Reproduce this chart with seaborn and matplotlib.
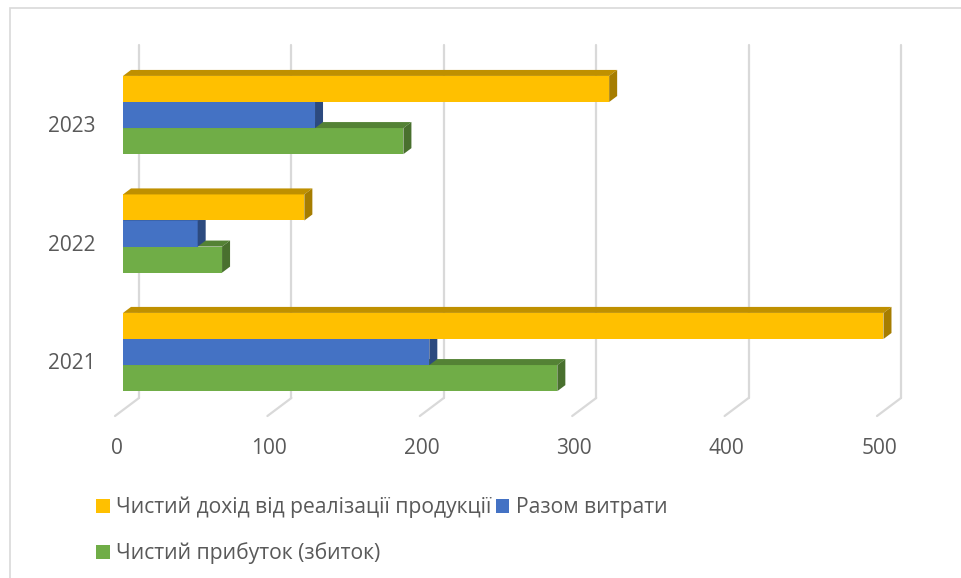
import numpy as np
import pandas as pd
import matplotlib
matplotlib.use("Agg")
import matplotlib.pyplot as plt
import matplotlib.transforms as mtransforms
from matplotlib.patches import Polygon, Rectangle
from matplotlib.lines import Line2D
import seaborn as sns

# ---- data -------------------------------------------------------------
years = ["2023", "2022", "2021"]
series = [
    "Чистий дохід від реалізації продукції",
    "Разом витрати",
    "Чистий прибуток (збиток)",
]
revenue = [319, 119, 499]
costs = [126, 49, 201]
profit = [184, 65, 285]
x_ticks = [0, 100, 200, 300, 400, 500]
colors = ["#FFC000", "#4472C4", "#70AD47"]

df = pd.DataFrame({
    "year": years * 3,
    "series": [series[0]] * 3 + [series[1]] * 3 + [series[2]] * 3,
    "value": revenue + costs + profit,
})

# ---- style ------------------------------------------------------------
sns.set_theme(style="white")
plt.rcParams["font.family"] = ["Open Sans", "DejaVu Sans"]
TEXT = "#595959"
GRID = "#D9D9D9"

W, H, DPI = 961, 578, 100
fig = plt.figure(figsize=(W / DPI, H / DPI), dpi=DPI)

# plotting box in pixels (front plane of the bars)
left_px, right_px, top_px, bottom_px = 123, 885, 45, 398
ax = fig.add_axes([left_px / W, 1 - bottom_px / H,
                   (right_px - left_px) / W, (bottom_px - top_px) / H])

sns.barplot(data=df, x="value", y="year", hue="series", order=years,
            hue_order=series, palette=colors, orient="h", width=0.66,
            saturation=1, linewidth=0, ax=ax)

ax.set_xlim(0, 500)
ax.set_ylim(2.388, -0.591)
ax.set_xlabel("")
ax.set_ylabel("")
for s in ax.spines.values():
    s.set_visible(False)
ax.tick_params(length=0)
ax.grid(False)

# pixel -> data unit conversions
p0 = ax.transData.transform((0, 0))
p1 = ax.transData.transform((1, 1))
px_x = p1[0] - p0[0]          # pixels per x unit
px_y = p0[1] - p1[1]          # pixels per y unit (y inverted)

# ---- 3D-style back wall & floor gridlines ------------------------------
back_dx, floor_dx, floor_dy = 16, -8, 18
for v in x_ticks:
    xb = v + back_dx / px_x
    ax.add_line(Line2D([xb, xb], [-0.591, 2.388], color=GRID, lw=1.6,
                       zorder=0.5, clip_on=False))
    xf = v + floor_dx / px_x
    ax.add_line(Line2D([xb, xf], [2.388, 2.388 + floor_dy / px_y],
                       color=GRID, lw=1.6, zorder=0.5, clip_on=False))


def shade(c, f):
    r, g, b = matplotlib.colors.to_rgb(c)
    return (r * f, g * f, b * f)


# ---- depth faces (top and side) for every bar --------------------------
ddx = 8 / px_x
ddy = 6 / px_y
bars = [p for p in ax.patches if isinstance(p, Rectangle) and p.get_width() > 0]
for p in bars:
    x0, y0 = p.get_x(), p.get_y()
    w, h = p.get_width(), p.get_height()
    x1, y1 = x0 + w, y0 + h
    fc = p.get_facecolor()
    # lower bars sit behind the bars above them
    z = 3 - y0
    p.set_zorder(z)
    p.set_clip_on(False)
    top = Polygon([(x0, y0), (x1, y0), (x1 + ddx, y0 - ddy), (x0 + ddx, y0 - ddy)],
                  closed=True, facecolor=shade(fc, 0.75), edgecolor="none",
                  zorder=z, clip_on=False)
    side = Polygon([(x1, y0), (x1 + ddx, y0 - ddy), (x1 + ddx, y1 - ddy), (x1, y1)],
                   closed=True, facecolor=shade(fc, 0.65), edgecolor="none",
                   zorder=z, clip_on=False)
    ax.add_patch(top)
    ax.add_patch(side)

# ---- tick labels ------------------------------------------------------
ax.set_xticks(x_ticks)
ax.set_xticklabels([str(t) for t in x_ticks], fontsize=15, color=TEXT)
ax.tick_params(axis="x", pad=29)
for lab in ax.get_xticklabels():
    lab.set_transform(lab.get_transform() + mtransforms.ScaledTranslation(-0.06, 0, fig.dpi_scale_trans))

ax.set_yticks(range(len(years)))
ax.set_yticklabels(years, fontsize=15, color=TEXT)
ax.tick_params(axis="y", pad=20)
for lab in ax.get_yticklabels():
    lab.set_transform(lab.get_transform() + mtransforms.ScaledTranslation(0, -0.09, fig.dpi_scale_trans))

# ---- legend -----------------------------------------------------------
handles, labels = ax.get_legend_handles_labels()
if ax.get_legend() is not None:
    ax.get_legend().remove()
order = [0, 2, 1]
fig.legend([handles[i] for i in order], [labels[i] for i in order],
           loc="upper left", bbox_to_anchor=(96 / W, 1 - 497 / H),
           ncol=2, frameon=False, fontsize=15.2, labelcolor=TEXT,
           handlelength=0.64, handleheight=0.64, handletextpad=0.32,
           columnspacing=0.2, labelspacing=1.12, borderpad=0,
           borderaxespad=0)

# chart area outline
fig.add_artist(Rectangle((10 / W, -0.05), 1.2, 1 - 8 / H + 0.05,
                         transform=fig.transFigure, fill=False,
                         edgecolor="#D9D9D9", lw=1.2))

fig.savefig("out.png", dpi=DPI)
